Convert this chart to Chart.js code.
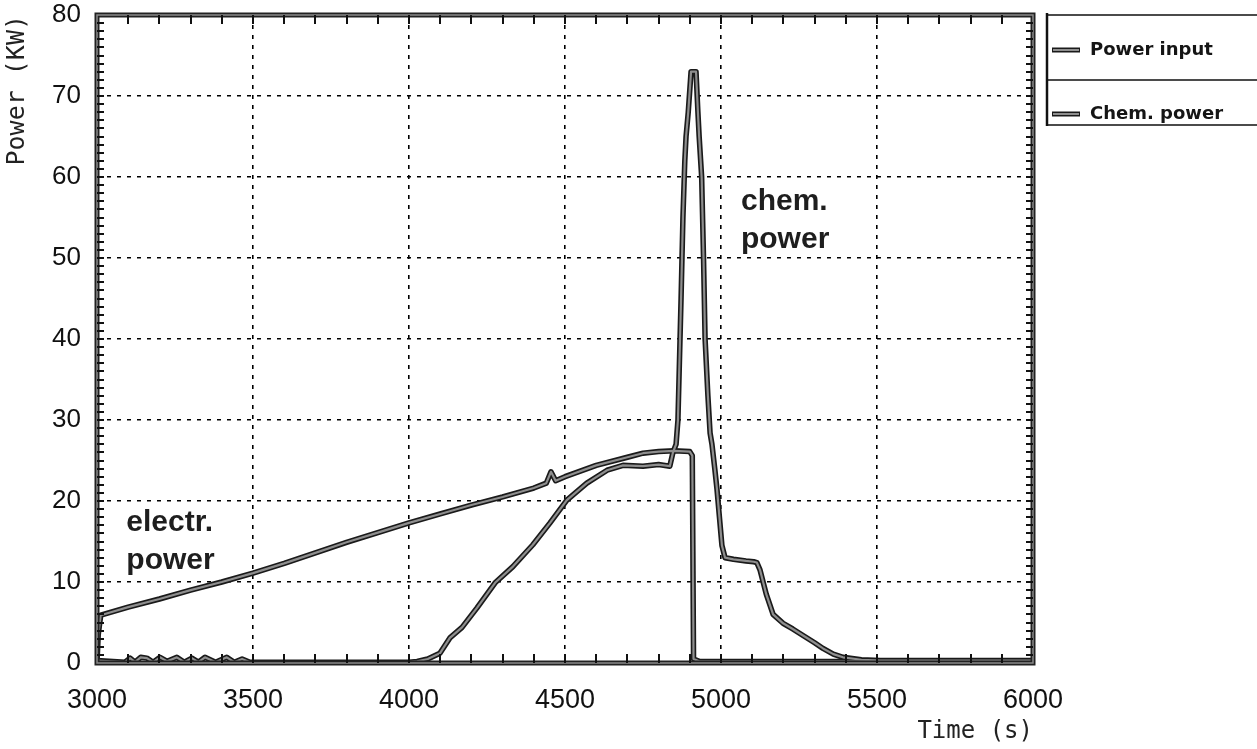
<!DOCTYPE html>
<html>
<head>
<meta charset="utf-8">
<script src="https://cdn.jsdelivr.net/npm/chart.js@4.4.1/dist/chart.umd.min.js"></script>
<style>
html,body{margin:0;padding:0;background:#fff;}
#wrap{width:1257px;height:749px;position:relative;}
</style>
</head>
<body>
<div id="wrap"><canvas id="c" width="1257" height="749"></canvas></div>
<script>
// ---- data ----
const seriesNames = ['Power input', 'Chem. power'];
const xTitle = 'Time (s)';
const yTitle = 'Power (KW)';
const electrLabel = ['electr.', 'power'];
const chemLabel = ['chem.', 'power'];

const powerInputTime = [3000, 3004, 3012, 3100, 3200, 3300, 3400, 3500, 3600, 3700, 3800, 3900, 4000, 4100, 4200, 4300, 4400, 4440, 4455, 4470, 4500, 4600, 4700, 4750, 4800, 4850, 4900, 4908, 4912, 4930, 6000];
const powerInputKW   = [0,    3.5,  5.9,  6.9,  7.9,  9.0,  10.0, 11.1, 12.3, 13.6, 14.9, 16.1, 17.3, 18.4, 19.5, 20.5, 21.6, 22.2, 23.6, 22.5, 23.0, 24.4, 25.4, 25.9, 26.1, 26.2, 26.1, 25.6, 0.5,  0.2,  0.2];

const chemPowerTime = [3000, 3090, 3106, 3122, 3140, 3160, 3180, 3202, 3225, 3256, 3280, 3304, 3325, 3346, 3380, 3416, 3440, 3465, 3490, 3600, 3800, 4000, 4026, 4060, 4099, 4131, 4170, 4218, 4276, 4333, 4397, 4452, 4506, 4570, 4635, 4686, 4750, 4800, 4836, 4846, 4856, 4862, 4872, 4878, 4884, 4888, 4895, 4904, 4920, 4926, 4930, 4938, 4944, 4949, 4958, 4965, 4971, 4980, 4987, 4995, 5003, 5013, 5040, 5080, 5105, 5115, 5125, 5145, 5167, 5199, 5230, 5263, 5300, 5327, 5360, 5391, 5450, 5510, 6000];
const chemPowerKW   = [0.3,  0.1,  0.6,  0.1,  0.7,  0.6,  0.1,  0.7,  0.2,  0.7,  0.1,  0.6,  0.1,  0.7,  0.1,  0.7,  0.1,  0.5,  0.1,  0.1,  0.1,  0.1,  0.2,  0.5,  1.2,  3.1,  4.4,  6.8,  9.9,  11.9, 14.6, 17.3, 20.1, 22.2, 23.8, 24.4, 24.3, 24.5, 24.3, 26.0, 27.0, 30.0, 45.0, 55.0, 62.0, 65.0, 68.0, 73.0, 73.0, 68.0, 65.0, 60.0, 50.0, 40.0, 33.0, 28.4, 27.0, 24.0, 21.5, 18.0, 14.5, 13.0, 12.8, 12.6, 12.5, 12.4, 11.5, 8.5,  6.0,  4.9,  4.2,  3.4,  2.5,  1.8,  1.1,  0.7,  0.4,  0.3,  0.3];

const xMin = 3000, xMax = 6000, xStep = 500, xMinorStep = 100;
const yMin = 0, yMax = 80, yStep = 10, yMinorStep = 1;

function pts(ts, vs) { return ts.map((t, i) => ({ x: t, y: vs[i] })); }

const piData = pts(powerInputTime, powerInputKW);
const chData = pts(chemPowerTime, chemPowerKW);

const OUTLINE = '#1a1a1a';
const INNER = '#8e8e8e';

const decor = {
  id: 'decor',
  afterDatasetsDraw(chart) {
    const { ctx, chartArea: a, scales: { x, y } } = chart;
    ctx.save();
    // frame
    ctx.lineWidth = 5; ctx.strokeStyle = '#222';
    ctx.strokeRect(a.left, a.top, a.right - a.left, a.bottom - a.top);
    ctx.lineWidth = 1.5; ctx.strokeStyle = '#8a8a8a';
    ctx.strokeRect(a.left, a.top, a.right - a.left, a.bottom - a.top);
    // minor ticks
    ctx.strokeStyle = '#111'; ctx.lineWidth = 2;
    ctx.beginPath();
    for (let t = xMin + xMinorStep; t < xMax; t += xMinorStep) {
      const px = Math.round(x.getPixelForValue(t));
      ctx.moveTo(px, a.bottom); ctx.lineTo(px, a.bottom - 9);
      ctx.moveTo(px, a.top); ctx.lineTo(px, a.top + 9);
    }
    for (let v = yMin + yMinorStep; v < yMax; v += yMinorStep) {
      const py = Math.round(y.getPixelForValue(v));
      ctx.moveTo(a.left, py); ctx.lineTo(a.left + 7, py);
      ctx.moveTo(a.right, py); ctx.lineTo(a.right - 7, py);
    }
    ctx.stroke();
    ctx.restore();
  },
  afterDraw(chart) {
    const { ctx, chartArea: a, scales: { x, y } } = chart;
    ctx.save();
    // annotations
    ctx.fillStyle = '#1e1e1e';
    ctx.font = 'bold 30px "Liberation Sans"';
    ctx.textAlign = 'left';
    ctx.textBaseline = 'middle';
    ctx.fillText(electrLabel[0], x.getPixelForValue(3094), y.getPixelForValue(17.3));
    ctx.fillText(electrLabel[1], x.getPixelForValue(3094), y.getPixelForValue(12.6));
    ctx.fillText(chemLabel[0], x.getPixelForValue(5064), y.getPixelForValue(56.9));
    ctx.fillText(chemLabel[1], x.getPixelForValue(5064), y.getPixelForValue(52.3));

    // legend box
    const L = a.right + 14, R = chart.width, T = a.top;
    ctx.strokeStyle = '#111';
    ctx.lineWidth = 2.5;
    ctx.beginPath(); ctx.moveTo(L, T - 2); ctx.lineTo(L, T + 111); ctx.stroke();
    ctx.lineWidth = 1.5;
    ctx.beginPath();
    ctx.moveTo(L, T); ctx.lineTo(R, T);
    ctx.moveTo(L, T + 65); ctx.lineTo(R, T + 65);
    ctx.moveTo(L, T + 110); ctx.lineTo(R, T + 110);
    ctx.stroke();
    const rows = [T + 35, T + 99];
    ctx.font = 'bold 18px "DejaVu Sans"';
    ctx.textBaseline = 'middle';
    seriesNames.forEach((name, i) => {
      const yy = rows[i];
      ctx.lineCap = 'butt';
      ctx.strokeStyle = OUTLINE; ctx.lineWidth = 5;
      ctx.beginPath(); ctx.moveTo(L + 5, yy); ctx.lineTo(L + 33, yy); ctx.stroke();
      ctx.strokeStyle = INNER; ctx.lineWidth = 2;
      ctx.beginPath(); ctx.moveTo(L + 6, yy); ctx.lineTo(L + 32, yy); ctx.stroke();
      ctx.fillStyle = '#151515';
      ctx.fillText(name, L + 43, yy);
    });
    ctx.restore();
  }
};

const tickFontX = { family: 'Liberation Sans', size: 27, lineHeight: 1 };
const tickFontY = { family: 'Liberation Sans', size: 26, lineHeight: 1 };
const titleFontX = { family: 'DejaVu Sans Mono', size: 24 };
const titleFontY = { family: 'DejaVu Sans Mono', size: 25 };

new Chart(document.getElementById('c'), {
  type: 'line',
  data: {
    datasets: [
      { label: seriesNames[0], data: piData, borderColor: OUTLINE, borderWidth: 5.5, order: 2 },
      { label: seriesNames[1], data: chData, borderColor: OUTLINE, borderWidth: 5.5, order: 2 },
      { label: seriesNames[0], data: piData, borderColor: INNER, borderWidth: 2.2, order: 1 },
      { label: seriesNames[1], data: chData, borderColor: INNER, borderWidth: 2.2, order: 1 }
    ]
  },
  options: {
    responsive: false,
    animation: false,
    events: [],
    elements: { point: { radius: 0 }, line: { tension: 0, borderJoinStyle: 'round', borderCapStyle: 'round' } },
    layout: { padding: { top: 15, right: 224, left: 0, bottom: 0 } },
    plugins: { legend: { display: false }, tooltip: { enabled: false } },
    scales: {
      x: {
        type: 'linear', min: xMin, max: xMax,
        afterFit(s) { s.height = 86; s.paddingLeft = 0; s.paddingRight = 0; s.paddingTop = 0; s.paddingBottom = 0; },
        ticks: { stepSize: xStep, autoSkip: false, maxRotation: 0, padding: 24, color: '#111', font: tickFontX,
                 callback: v => String(v) },
        grid: { color: '#000', lineWidth: 1.6, drawTicks: false },
        border: { display: false, dash: [4, 6] },
        title: { display: true, text: xTitle, align: 'end', color: '#222', font: titleFontX, padding: { top: 0, bottom: 3 } }
      },
      y: {
        type: 'linear', min: yMin, max: yMax,
        afterFit(s) { s.width = 97; s.paddingTop = 0; s.paddingBottom = 0; s.paddingLeft = 0; s.paddingRight = 0; },
        ticks: { stepSize: yStep, autoSkip: false, padding: 16, color: '#111', font: tickFontY,
                 callback: v => String(v) },
        grid: { color: '#000', lineWidth: 1.6, drawTicks: false },
        border: { display: false, dash: [4, 6] },
        title: { display: true, text: yTitle, align: 'end', color: '#222', font: titleFontY, padding: { top: 2, bottom: 0 } }
      }
    }
  },
  plugins: [decor]
});
</script>
</body>
</html>
